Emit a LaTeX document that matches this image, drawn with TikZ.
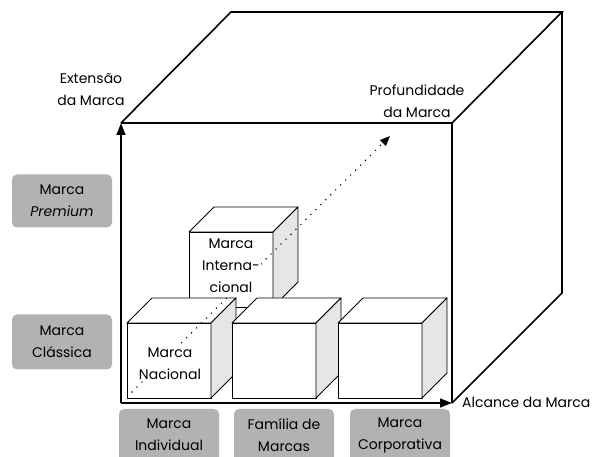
\documentclass[tikz,border=0pt]{standalone}
\usepackage{fontspec}
\setmainfont{Poppins}
\usetikzlibrary{arrows.meta}
\definecolor{boxgray}{RGB}{178,178,178}
\definecolor{sidegray}{RGB}{230,230,230}
\tikzset{
  bigline/.style={line width=1.6pt, line join=miter},
  axis/.style={bigline, -{Triangle[length=12pt,width=9pt]}},
  graybox/.style={fill=boxgray, rounded corners=5pt, minimum width=100pt, inner sep=0pt},
  lbl/.style={align=center, font=\fontsize{14}{22}\selectfont, inner sep=1pt},
  cubetext/.style={lbl, fill=white},
  cube/.pic={
    \filldraw[fill=white, line width=0.9pt, line join=round] (0,0) rectangle (84,75);
    \filldraw[fill=white, line width=0.9pt, line join=round] (0,0) -- (25,-25) -- (109,-25) -- (84,0) -- cycle;
    \filldraw[fill=sidegray, line width=0.9pt, line join=round] (84,0) -- (109,-25) -- (109,50) -- (84,75) -- cycle;
  }
}
\begin{document}
\begin{tikzpicture}[x=1pt, y=-1pt]
\useasboundingbox (0,0) rectangle (606,457);
% big cube corners
\coordinate (FTL) at (121,123);
\coordinate (FTR) at (452,123);
\coordinate (FBL) at (121,403);
\coordinate (FBR) at (452,403);
\coordinate (BTL) at (231,12);
\coordinate (BTR) at (562,12);
\coordinate (BBR) at (562,293);
\draw[bigline] (FTL) -- (BTL) -- (BTR) -- (FTR);
\draw[bigline] (BTR) -- (BBR) -- (FBR);
\draw[bigline] (FTL) -- (FTR) -- (FBR);
% small cubes
\pic at (189,232) {cube};
\pic at (127,323) {cube};
\pic at (232,323) {cube};
\pic at (338,323) {cube};
% axes
\draw[axis] (FBL) -- (FBR);
\draw[axis] (FBL) -- (FTL);
% depth arrow
\coordinate (ds) at (132,392);
\coordinate (de) at (390,136);
\draw[line width=1.6pt, dash pattern=on 0pt off 7pt, line cap=round, -{Triangle[length=10pt,width=8pt]}] (ds) -- (de);
% cube texts
\node[cubetext] (nac) at (170,364) {Marca\\Nacional};
\node[cubetext] (int) at (231,266) {Marca\\Interna-\\cional};
% axis labels
\node[lbl] (ext) at (91,90) {Extensão\\da Marca};
\node[lbl] (prof) at (417,101) {Profundidade\\da Marca};
\node[lbl, anchor=west] (alc) at (461,402) {Alcance da Marca};
% left boxes
\node[graybox, minimum height=53pt] (prem) at (62,201) {};
\node[lbl] (premt) at (prem.center) {Marca\\\textit{Premium}};
\node[graybox, minimum height=55pt] (clas) at (62,342) {};
\node[lbl] (clast) at (clas.center) {Marca\\Clássica};
% bottom boxes
\node[graybox, minimum height=62pt] (ind) at (169,440) {};
\node[lbl] (indt) at (169,435) {Marca\\Individual};
\node[graybox, minimum height=62pt] (fam) at (284,440) {};
\node[lbl] (famt) at (284,435) {Família de\\Marcas};
\node[graybox, minimum height=62pt] (cor) at (400,440) {};
\node[lbl] (cort) at (400,435) {Marca\\Corporativa};
\end{tikzpicture}
\end{document}
